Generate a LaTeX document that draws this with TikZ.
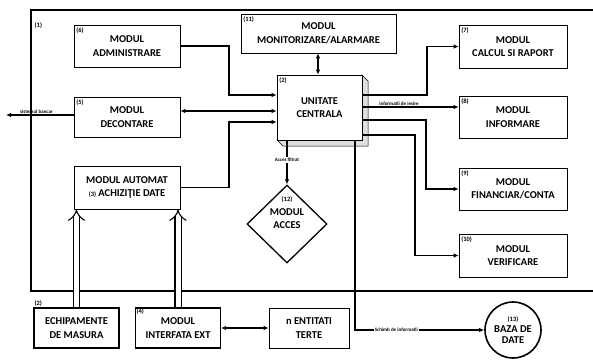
\documentclass[tikz,border=0pt]{standalone}
\usepackage{fontspec}
\setmainfont{Carlito}
\usetikzlibrary{arrows.meta,shapes.geometric,calc}
\begin{document}
\begin{tikzpicture}[x=1pt,y=-1pt,
  mbox/.style={draw, line width=0.7pt, align=center, inner sep=0pt, font=\bfseries\fontsize{10.5}{13.5}\selectfont},
  thickbox/.style={mbox, line width=1.3pt},
  tag/.style={font=\bfseries\fontsize{6.5}{7}\selectfont, inner sep=2.5pt},
  lbl/.style={font=\bfseries\fontsize{5}{5.5}\selectfont, inner sep=1pt},
  conn/.style={line width=1.3pt, -{Latex[length=5pt,width=4.5pt]}},
  conn2/.style={line width=1.3pt, {Latex[length=5pt,width=4.5pt]}-{Latex[length=5pt,width=4.5pt]}},
  hollow/.style={draw=black, line width=1.1pt, double=white, double distance=5pt, -{Implies}},
  frameline/.style={line width=1.5pt}
]
\fill[white] (0,0) rectangle (593,362);
\useasboundingbox (0,0) rectangle (593,362);

% outer frame (1)
\draw[frameline] (593,10) -- (31,10) -- (31,291) -- (593,291);
\node[tag, anchor=north west] (t1) at (32,20) {(1)};

% left column
\node[mbox, minimum width=106, minimum height=42,
  label={[tag,anchor=north west]north west:(6)}] (adm) at (127,46) {MODUL\\ADMINISTRARE};
\node[mbox, minimum width=106, minimum height=40,
  label={[tag,anchor=north west]north west:(5)}] (dec) at (127,117) {MODUL\\DECONTARE};
\node[mbox, minimum width=106, minimum height=43] (aut) at (127,187.5)
  {MODUL AUTOMAT\\{\fontsize{6.5}{7}\selectfont(3)} ACHIZIŢIE DATE};

% top middle
\node[mbox, minimum width=155, minimum height=39,
  label={[tag,anchor=north west]north west:(11)}] (mon) at (318.5,33.5) {MODUL\\MONITORIZARE/ALARMARE};

% central unit with 3D edge
\fill[gray!25, draw=black, line width=0.5pt] (362,75) -- (368,81) -- (368,146) -- (283,146) -- (277,140) -- (362,140) -- cycle;
\node[mbox, fill=white, minimum width=85, minimum height=65,
  label={[tag,anchor=north west]north west:(2)}] (uc) at (319.5,107.5) {UNITATE\\CENTRALA};

% right column
\node[mbox, minimum width=108, minimum height=43,
  label={[tag,anchor=north west]north west:(7)}] (cal) at (513,46.5) {MODUL\\CALCUL SI RAPORT};
\node[mbox, minimum width=108, minimum height=42,
  label={[tag,anchor=north west]north west:(8)}] (inf) at (513,117) {MODUL\\INFORMARE};
\node[mbox, minimum width=108, minimum height=42,
  label={[tag,anchor=north west]north west:(9)}] (fin) at (513,189) {MODUL\\FINANCIAR/CONTA};
\node[mbox, minimum width=108, minimum height=43,
  label={[tag,anchor=north west]north west:(10)}] (ver) at (513,255.5) {MODUL\\VERIFICARE};

% access diamond
\node[diamond, draw, line width=1.3pt, minimum width=80, minimum height=78, inner sep=0pt] (acc) at (287,224) {};
\node[align=center, inner sep=0pt, font=\bfseries\fontsize{10.5}{13.5}\selectfont] (acct) at (287,213)
  {{\fontsize{6.5}{7}\selectfont(12)}\\MODUL\\ACCES};

% bottom row
\node[thickbox, minimum width=85, minimum height=40,
  label={[tag,anchor=south west,inner sep=1pt]north west:(2)}] (ech) at (76.5,328) {ECHIPAMENTE\\DE MASURA};
\node[thickbox, minimum width=85, minimum height=40,
  label={[tag,anchor=north west,inner sep=1.5pt]north west:(4)}] (ext) at (178,328) {MODUL\\INTERFATA EXT};
\node[mbox, minimum width=80, minimum height=40] (ent) at (309,328) {n ENTITATI\\TERTE};
\node[circle, draw, line width=1.6pt, minimum size=56, inner sep=0pt, align=center,
  font=\bfseries\fontsize{10.5}{11}\selectfont] (db) at (513,330)
  {{\fontsize{6.5}{7}\selectfont(13)}\\BAZA DE\\DATE};

% helper coordinates
\coordinate (bx1) at (229,95);
\coordinate (bx2) at (229,122);
\coordinate (bx3) at (427,95);
\coordinate (bx4) at (426,120);
\coordinate (bx5) at (415,135);
\coordinate (bx6) at (355,330);
\coordinate (bank) at (6,115);

% connectors into central unit
\draw[conn] (adm.east) -| (bx1) -- (uc.west |- bx1);
\draw[conn2] (dec.east |- 0,111) -- (uc.west |- 0,111);
\draw[conn] (aut.east) -| (bx2) -- (uc.west |- bx2);
\draw[conn2] (mon.south -| 318,0) -- (uc.north -| 318,0);

% connectors out of central unit
\draw[conn] (uc.east |- bx3) -- (bx3) |- (cal.west);
\draw[conn] (uc.east |- 0,107) -- (inf.west |- 0,107)
  node[lbl, above, pos=0.38] {informatii de iesire};
\draw[conn] (uc.east |- bx4) -- (bx4) |- (fin.west);
\draw[conn] (uc.east |- bx5) -- (bx5) |- (ver.west);
\draw[conn] (acc.north |- uc.south) -- (acc.north)
  node[lbl, fill=white, pos=0.45] {Acces filtrat};
\draw[conn] (uc.south -| bx6) |- (db.west)
  node[lbl, fill=white, pos=0.66] {Schimb de informatii};

% decontare to bank
\draw[conn] (dec.west |- bank) -- (bank)
  node[lbl, above, pos=0.55, inner sep=0.5pt] {sistemul bancar};

% hollow arrows into acquisition module
\draw[hollow] (ech.north) -- (ech.north |- aut.south);
\draw[hollow] (ext.north) -- (ext.north |- aut.south);

% interface to third parties
\draw[conn2] (ext.east) -- (ent.west);
\end{tikzpicture}
\end{document}
